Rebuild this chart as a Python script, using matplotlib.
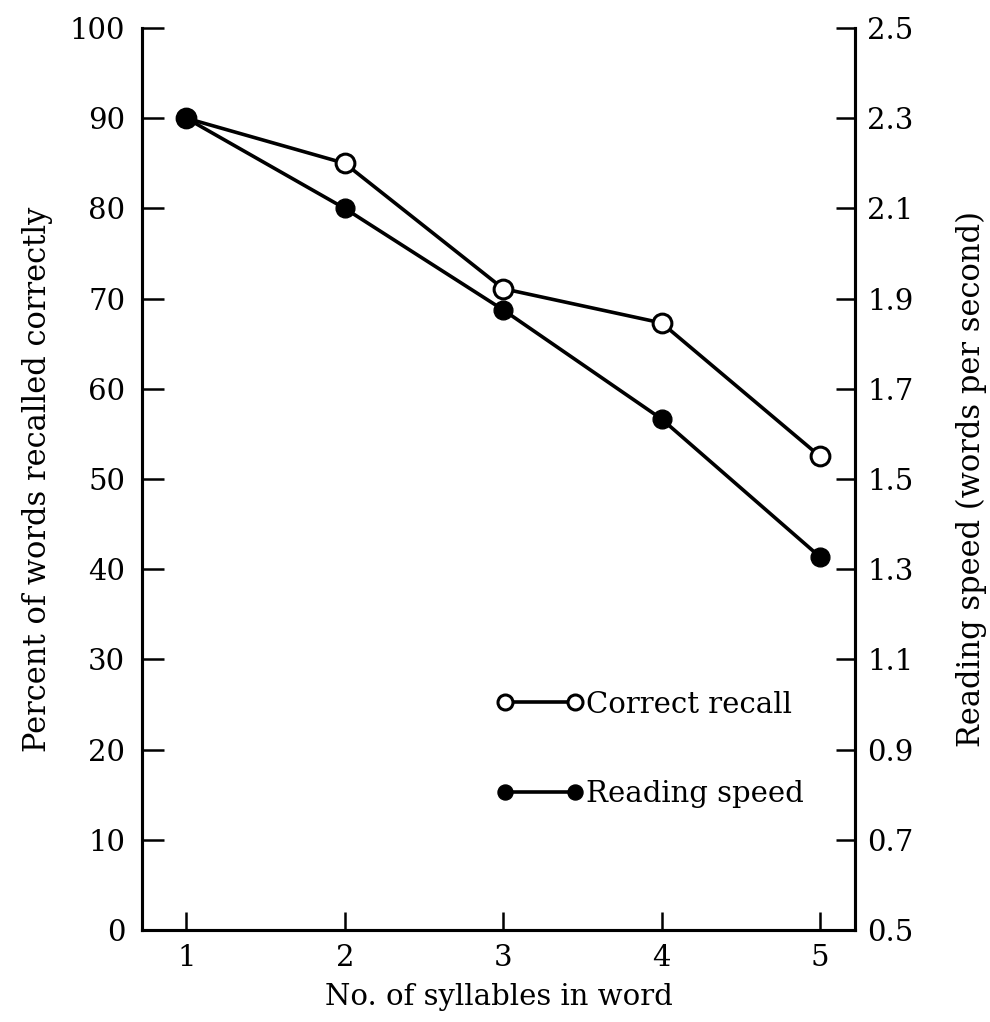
import matplotlib
matplotlib.use("Agg")
import matplotlib.pyplot as plt

# ------------------------------------------------------------
# Data
# ------------------------------------------------------------
syllables = [1, 2, 3, 4, 5]
recall_pct = [90.0, 85.0, 71.1, 67.3, 52.5]          # left axis
reading_speed = [2.30, 2.10, 1.875, 1.633, 1.327]    # right axis

left_ticks = list(range(0, 101, 10))
right_ticks = [0.5, 0.7, 0.9, 1.1, 1.3, 1.5, 1.7, 1.9, 2.1, 2.3, 2.5]

plt.rcParams["font.family"] = ["DejaVu Serif"]

LW = 2.6
MS = 13.5

fig = plt.figure(figsize=(9.9, 10.22), dpi=100)
ax = fig.add_axes([0.1434, 0.09, 0.7202, 0.8826])
ax2 = ax.twinx()

ax.plot(syllables, recall_pct, color="black", linewidth=LW, marker="o",
        markersize=MS, markerfacecolor="white", markeredgecolor="black",
        markeredgewidth=2.2, label="Correct recall", zorder=3)
ax2.plot(syllables, reading_speed, color="black", linewidth=LW, marker="o",
         markersize=MS, markerfacecolor="black", markeredgecolor="black",
         label="Reading speed", zorder=3)

ax.set_xlim(0.72, 5.22)
ax.set_ylim(0, 100)
ax2.set_ylim(0.5, 2.5)

ax.set_xticks(syllables)
ax.set_yticks(left_ticks)
ax2.set_yticks(right_ticks)
ax2.set_yticklabels([f"{t:.1f}" for t in right_ticks])

for a in (ax, ax2):
    a.spines["top"].set_visible(False)
    for s in ("left", "right", "bottom"):
        a.spines[s].set_linewidth(2.2)

ax.tick_params(axis="y", direction="in", length=16, width=1.8,
               labelsize=21, pad=12)
ax.tick_params(axis="x", direction="in", length=13, width=1.8,
               labelsize=21, pad=10)
ax2.tick_params(axis="y", direction="in", length=14, width=1.8,
                labelsize=21, pad=9)

ax.set_xlabel("No. of syllables in word", fontsize=21, labelpad=8)
ax.set_ylabel("Percent of words recalled correctly", fontsize=22, labelpad=12)
ax2.set_ylabel("Reading speed (words per second)", fontsize=22, labelpad=30)

h1, l1 = ax.get_legend_handles_labels()
h2, l2 = ax2.get_legend_handles_labels()
ax2.legend(h1 + h2, l1 + l2, loc="upper left",
           bbox_to_anchor=(482 / 990, 1 - 676 / 1022),
           bbox_transform=fig.transFigure, frameon=False, numpoints=2,
           fontsize=21, handlelength=3.0, handletextpad=0.05,
           labelspacing=2.1, markerscale=0.8, borderpad=0)

fig.savefig("out.png", dpi=100)
